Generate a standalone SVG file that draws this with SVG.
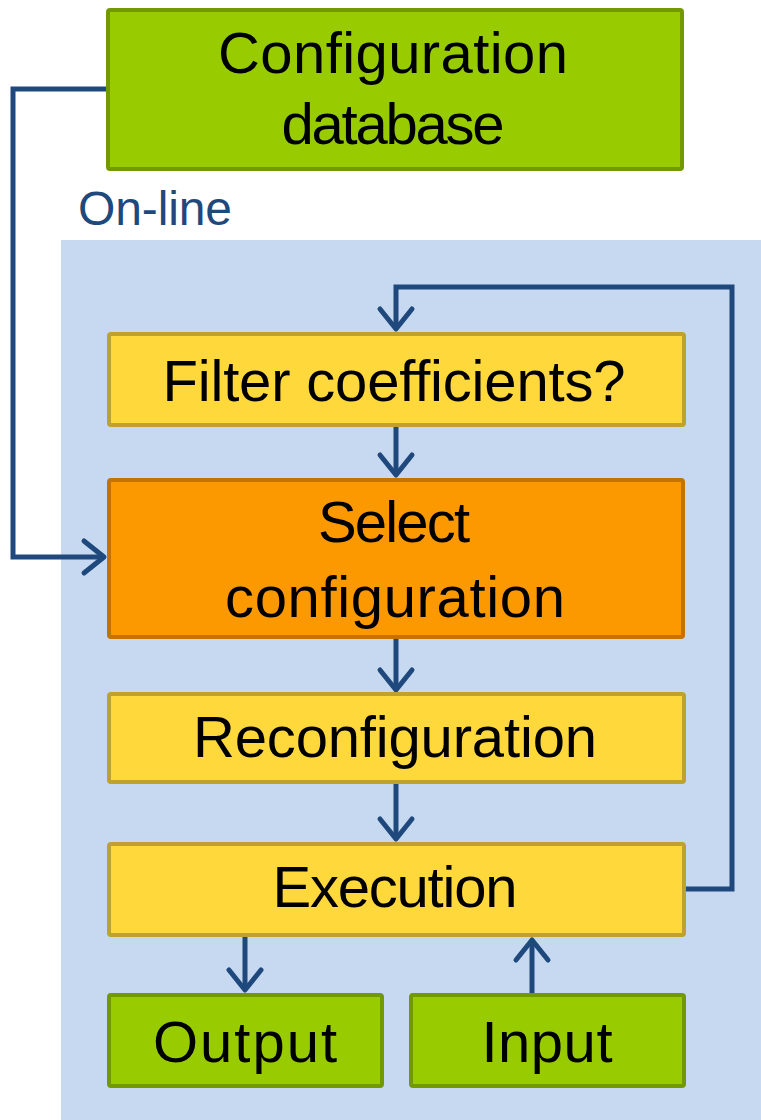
<svg xmlns="http://www.w3.org/2000/svg" width="761" height="1120" viewBox="0 0 761 1120">
  <style>
    .lbl { font-family: "Liberation Sans", Arial, sans-serif; font-size: 58px; fill: #000; text-anchor: middle; }
    .green { fill: #99cc00; stroke: #729a00; stroke-width: 4; }
    .yellow { fill: #ffd93b; stroke: #bea12e; stroke-width: 4; }
    .orange { fill: #fd9900; stroke: #c47200; stroke-width: 4; }
    .conn { fill: none; stroke: #1f497d; stroke-width: 5; stroke-linejoin: miter; }
  </style>
  <defs>
    <marker id="arrow" markerUnits="userSpaceOnUse" viewBox="-30 -20 40 40" markerWidth="40" markerHeight="40" refX="0" refY="0" orient="auto">
      <path d="M-20,-16 L0,0 L-20,16" fill="none" stroke="#1f497d" stroke-width="5" stroke-linecap="round" stroke-linejoin="round"/>
    </marker>
  </defs>

  <!-- on-line region -->
  <rect x="61" y="240" width="700" height="880" fill="#c6d9f1"/>
  <text x="78" y="225" font-family="Liberation Sans, Arial, sans-serif" font-size="48" fill="#1f497d" textLength="154">On-line</text>

  <g id="connectors">
    <path class="conn" d="M106,89 H13 V557 H104" marker-end="url(#arrow)"/>
    <path class="conn" d="M686,889 H732 V287 H396 V329" marker-end="url(#arrow)"/>
    <path class="conn" d="M396,427 V475" marker-end="url(#arrow)"/>
    <path class="conn" d="M396,639 V690" marker-end="url(#arrow)"/>
    <path class="conn" d="M396,784 V839" marker-end="url(#arrow)"/>
    <path class="conn" d="M245,937 V990" marker-end="url(#arrow)"/>
    <path class="conn" d="M532,993 V940" marker-end="url(#arrow)"/>
  </g>

  <g id="config-db">
    <rect class="green" x="108" y="10" width="574" height="159" rx="2"/>
    <text class="lbl" x="393" y="73" textLength="350">Configuration</text>
    <text class="lbl" x="393" y="144" textLength="223">database</text>
  </g>

  <g id="filter-coefficients">
    <rect class="yellow" x="109" y="334" width="575" height="91" rx="2"/>
    <text class="lbl" x="394" y="401" textLength="463">Filter coefficients?</text>
  </g>

  <g id="select-configuration">
    <rect class="orange" x="109" y="480" width="574" height="157" rx="2"/>
    <text class="lbl" x="394" y="542" textLength="152">Select</text>
    <text class="lbl" x="395" y="617" textLength="340">configuration</text>
  </g>

  <g id="reconfiguration">
    <rect class="yellow" x="109" y="694" width="575" height="88" rx="2"/>
    <text class="lbl" x="395" y="757" textLength="404">Reconfiguration</text>
  </g>

  <g id="execution">
    <rect class="yellow" x="109" y="844" width="575" height="91" rx="2"/>
    <text class="lbl" x="395" y="907" textLength="245">Execution</text>
  </g>

  <g id="output">
    <rect class="green" x="109" y="995" width="273" height="91" rx="2"/>
    <text class="lbl" x="245" y="1062" textLength="184">Output</text>
  </g>

  <g id="input">
    <rect class="green" x="411" y="995" width="273" height="91" rx="2"/>
    <text class="lbl" x="547" y="1062" textLength="131">Input</text>
  </g>
</svg>
